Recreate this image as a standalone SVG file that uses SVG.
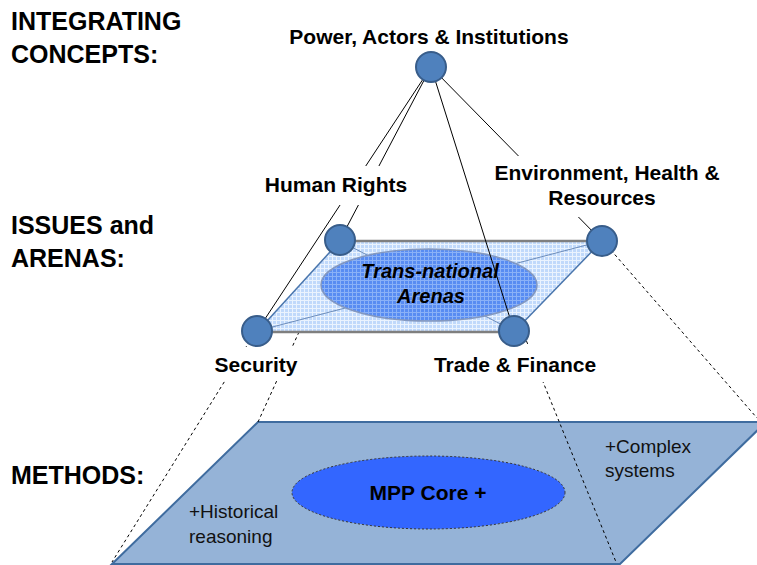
<svg xmlns="http://www.w3.org/2000/svg" width="757" height="565" viewBox="0 0 757 565">
<style>
.head{font-family:"Liberation Sans",Arial,sans-serif;font-weight:bold;font-size:25px;fill:#000}
.lbl{font-family:"Liberation Sans",Arial,sans-serif;font-weight:bold;font-size:21px;fill:#000;text-anchor:middle}
.arena{font-family:"Liberation Sans",Arial,sans-serif;font-weight:bold;font-style:italic;font-size:20px;fill:#000;text-anchor:middle}
.meth{font-family:"Liberation Sans",Arial,sans-serif;font-size:19px;fill:#111}
.node{fill:#4f81bd;stroke:#385d8a;stroke-width:2}
.solid{stroke:#000;stroke-width:1;fill:none}
.dash{stroke:#000;stroke-width:1;fill:none;stroke-dasharray:3 3}
.bg{fill:#fff}
</style>
<defs>
<pattern id="gridA" width="4" height="4" patternUnits="userSpaceOnUse">
<rect width="4" height="4" fill="#c0d9fb"/>
<path d="M0 0.5H4M0.5 0V4" stroke="#eaf3fe" stroke-width="1"/>
</pattern>
<pattern id="gridB" width="4" height="4" patternUnits="userSpaceOnUse">
<rect width="4" height="4" fill="#588cf2"/>
<path d="M0 0.5H4M0.5 0V4" stroke="#8ab1f7" stroke-width="1"/>
</pattern>
</defs>
<rect width="757" height="565" fill="#fff"/>

<g id="headings">
<text class="head" x="11" y="30">INTEGRATING</text>
<text class="head" x="11" y="63">CONCEPTS:</text>
<text class="head" x="11" y="234">ISSUES and</text>
<text class="head" x="11" y="267">ARENAS:</text>
<text class="head" x="11" y="484">METHODS:</text>
</g>

<g id="methods-plane">
<polygon points="258,422 766,422 620,564 112,564" fill="#95b3d7" stroke="#3f6c9f" stroke-width="2"/>
<text class="meth" x="189" y="518">+Historical</text>
<text class="meth" x="189" y="543">reasoning</text>
<text class="meth" x="605" y="453">+Complex</text>
<text class="meth" x="605" y="477">systems</text>
</g>

<g id="mpp-core">
<ellipse cx="428.5" cy="492.5" rx="136.5" ry="36.5" fill="#3366ff" stroke="#333" stroke-width="1" stroke-dasharray="2 2"/>
<text class="lbl" x="428" y="500">MPP Core +</text>
</g>

<g id="connectors-dashed">
<line class="dash" x1="256" y1="331" x2="112" y2="562"/>
<line class="dash" x1="299" y1="332" x2="258" y2="422"/>
<line class="dash" x1="522" y1="330" x2="616" y2="562"/>
<line class="dash" x1="603" y1="241" x2="757" y2="418"/>
</g>

<g id="arena-plane">
<polygon points="340,241 602,241 514,332 257,332" fill="url(#gridA)"/>
<line x1="340" y1="241" x2="602" y2="241" stroke="#7f7f7f" stroke-width="2.5"/>
<line x1="257" y1="332" x2="514" y2="332" stroke="#7f7f7f" stroke-width="2.5"/>
<line x1="340" y1="241" x2="257" y2="332" stroke="#4a76ad" stroke-width="1.5"/>
<line x1="602" y1="241" x2="514" y2="332" stroke="#4a76ad" stroke-width="1.5"/>
<line x1="340" y1="241" x2="514" y2="331" stroke="#6c8cba" stroke-width="1"/>
<line x1="257" y1="331" x2="602" y2="241" stroke="#6c8cba" stroke-width="1"/>
</g>

<g id="trans-national-arenas">
<ellipse cx="429" cy="285" rx="108" ry="36" fill="url(#gridB)" stroke="#8398c0" stroke-width="1.5"/>
<text class="arena" x="430" y="278">Trans-national</text>
<text class="arena" x="431" y="303">Arenas</text>
</g>

<g id="connectors">
<line class="solid" x1="431" y1="67" x2="257" y2="331"/>
<line class="solid" x1="431" y1="67" x2="340" y2="240"/>
<line class="solid" x1="431" y1="67" x2="514" y2="331"/>
<line class="solid" x1="431" y1="67" x2="602" y2="241"/>
</g>

<g id="node-power">
<text class="lbl" x="429" y="44">Power, Actors &amp; Institutions</text>
<circle class="node" cx="431" cy="67" r="15"/>
</g>

<g id="node-human-rights">
<rect class="bg" x="262" y="166" width="150" height="39"/>
<text class="lbl" x="336" y="192">Human Rights</text>
<circle class="node" cx="340" cy="240" r="15"/>
</g>

<g id="node-environment">
<rect class="bg" x="490" y="156" width="236" height="61"/>
<text class="lbl" x="607" y="180">Environment, Health &amp;</text>
<text class="lbl" x="602" y="205">Resources</text>
<circle class="node" cx="602" cy="241" r="15"/>
</g>

<g id="node-security">
<rect class="bg" x="210" y="347" width="92" height="34"/>
<text class="lbl" x="256" y="372">Security</text>
<circle class="node" cx="257" cy="331" r="15"/>
</g>

<g id="node-trade">
<rect class="bg" x="426" y="346" width="176" height="36"/>
<text class="lbl" x="515" y="372">Trade &amp; Finance</text>
<circle class="node" cx="514" cy="331" r="15"/>
</g>
</svg>
